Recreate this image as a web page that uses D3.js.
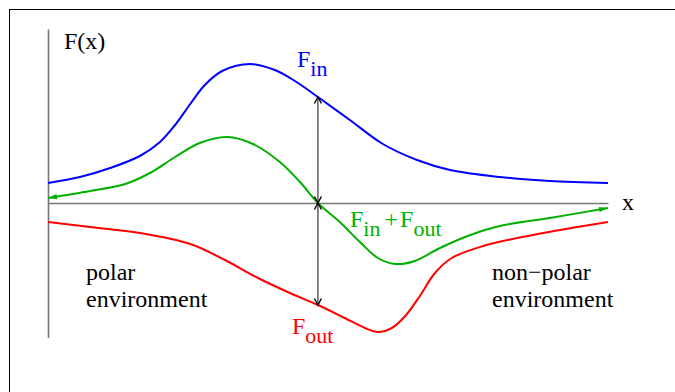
<!DOCTYPE html>
<html>
<head>
<meta charset="utf-8">
<script src="https://cdn.jsdelivr.net/npm/d3@7"></script>
<style>
  html, body { margin: 0; padding: 0; background: #fff; }
  svg { display: block; }
  svg text { font-family: "Liberation Serif", "DejaVu Serif", serif; }
</style>
</head>
<body>
<svg id="chart" width="675" height="392"></svg>
<script>
// Free energy profiles along the membrane normal (schematic units)
const inX  = [0, 0.57, 1.11, 1.64, 2.00, 2.27, 2.54, 2.80, 3.11, 3.61, 4.05, 4.41, 4.82, 5.39, 5.98, 6.59, 7.18, 8.07, 8.96, 10];
const inY  = [0.20, 0.26, 0.35, 0.47, 0.61, 0.78, 0.99, 1.18, 1.32, 1.39, 1.33, 1.22, 1.06, 0.83, 0.59, 0.43, 0.33, 0.26, 0.22, 0.20];

const outX = [0, 0.75, 1.64, 2.54, 3.16, 3.75, 4.32, 4.82, 5.30, 5.66, 5.89, 6.14, 6.38, 6.64, 6.91, 7.21, 7.77, 8.66, 10];
const outY = [-0.19, -0.24, -0.30, -0.41, -0.57, -0.75, -0.90, -1.02, -1.15, -1.25, -1.29, -1.25, -1.13, -0.93, -0.70, -0.55, -0.43, -0.32, -0.19];

const sumX = [0, 0.75, 1.38, 1.82, 2.27, 2.71, 3.20, 3.66, 4.14, 4.50, 4.82, 5.21, 5.57, 5.89, 6.20, 6.55, 7.00, 7.54, 8.07, 8.96, 10];
const sumY = [0.05, 0.12, 0.19, 0.30, 0.46, 0.60, 0.66, 0.59, 0.41, 0.21, 0, -0.19, -0.39, -0.55, -0.61, -0.58, -0.45, -0.32, -0.23, -0.15, -0.05];

// position of the double arrows marking the two contributions
const arrowX = 4.82;
const arrowIn = 1.06;
const arrowOut = -1.02;

const serif = "Liberation Serif, DejaVu Serif, serif";
const svg = d3.select("#chart");

const x = d3.scaleLinear().domain([0, 10]).range([48, 608]);
const y = d3.scaleLinear().domain([-1.345, 1.74]).range([337.5, 29]);

// outer frame
svg.append("rect")
  .attr("x", 9.5).attr("y", 9.5)
  .attr("width", 700).attr("height", 420)
  .attr("fill", "none").attr("stroke", "#000").attr("stroke-width", 1);

const defs = svg.append("defs");
// open V arrowhead for the vertical arrows
defs.append("marker")
  .attr("id", "vhead")
  .attr("viewBox", "-8 -5 10 10")
  .attr("refX", 0).attr("refY", 0)
  .attr("markerWidth", 10).attr("markerHeight", 10)
  .attr("markerUnits", "userSpaceOnUse")
  .attr("orient", "auto-start-reverse")
  .append("path")
  .attr("d", "M-6.5,-3.5 L0,0 L-6.5,3.5")
  .attr("fill", "none").attr("stroke", "#000").attr("stroke-width", 1.4);
// filled arrowhead for the sum curve
defs.append("marker")
  .attr("id", "ghead")
  .attr("viewBox", "-10 -5 12 10")
  .attr("refX", 0).attr("refY", 0)
  .attr("markerWidth", 12).attr("markerHeight", 10)
  .attr("markerUnits", "userSpaceOnUse")
  .attr("orient", "auto-start-reverse")
  .append("path")
  .attr("d", "M-9,-2.6 L0,0 L-9,2.6 Z")
  .attr("fill", "#00b000");

// axes (lines only, no ticks)
const gx = svg.append("g")
  .attr("transform", `translate(0,${y(0)})`)
  .call(d3.axisBottom(x).ticks(0).tickSizeOuter(0));
const gy = svg.append("g")
  .attr("transform", `translate(${x(0)},0)`)
  .call(d3.axisLeft(y).ticks(0).tickSizeOuter(0));
[gx, gy].forEach(g => g.select(".domain").attr("stroke", "#777").attr("stroke-width", 1.6));

const line = d3.line().x(d => x(d[0])).y(d => y(d[1])).curve(d3.curveCatmullRom.alpha(0.5));

svg.append("path")
  .attr("d", line(d3.zip(inX, inY)))
  .attr("fill", "none").attr("stroke", "#0000ff").attr("stroke-width", 2);

svg.append("path")
  .attr("d", line(d3.zip(outX, outY)))
  .attr("fill", "none").attr("stroke", "#ff0000").attr("stroke-width", 2);

svg.append("path")
  .attr("d", line(d3.zip(sumX, sumY)))
  .attr("fill", "none").attr("stroke", "#00b000").attr("stroke-width", 2)
  .attr("marker-start", "url(#ghead)")
  .attr("marker-end", "url(#ghead)");

// double arrows: F_in above the axis, F_out below it
[[arrowIn, 0], [0, arrowOut]].forEach(([a, b]) => {
  svg.append("line")
    .attr("x1", x(arrowX)).attr("x2", x(arrowX))
    .attr("y1", y(a)).attr("y2", y(b))
    .attr("stroke", "#444").attr("stroke-width", 1.3)
    .attr("marker-start", "url(#vhead)")
    .attr("marker-end", "url(#vhead)");
});

// labels with subscripts
function label(px, py, color, parts, size) {
  const t = svg.append("text").attr("x", px).attr("y", py)
    .attr("fill", color).attr("font-size", size)
    .style("font-family", serif);
  let shift = 0;
  parts.forEach(p => {
    const dy = p.sub ? 9 - shift : -shift;
    shift = p.sub ? 9 : 0;
    t.append("tspan").attr("dy", dy).attr("dx", p.gap || 0)
      .attr("font-size", p.sub ? size - 2 : size)
      .text(p.t);
  });
  return t;
}

label(64, 49, "#000", [{t: "F(x)"}], 24);
label(622, 210, "#000", [{t: "x"}], 24);
label(297, 67, "#0000ff", [{t: "F"}, {t: "in", sub: true}], 24);
label(292, 334, "#ff0000", [{t: "F"}, {t: "out", sub: true}], 24);
label(350, 227, "#00b000",
  [{t: "F"}, {t: "in", sub: true}, {t: "+", gap: 4}, {t: "F", gap: 2}, {t: "out", sub: true}], 24);

function plain(px, py, s) {
  svg.append("text").attr("x", px).attr("y", py)
    .attr("font-size", 24).style("font-family", serif).text(s);
}
plain(86, 280, "polar");
plain(86, 306.5, "environment");
plain(492, 280, "non\u2212polar");
plain(492, 306.5, "environment");
</script>
</body>
</html>
